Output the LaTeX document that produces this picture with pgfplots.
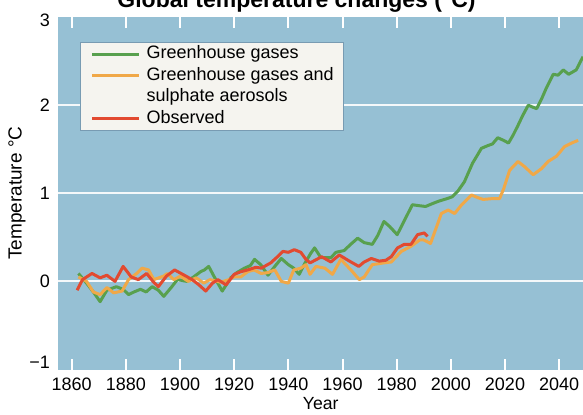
\documentclass[border=0pt]{standalone}
\usepackage{fontspec}
\setmainfont{Liberation Sans}
\usepackage{pgfplots}
\pgfplotsset{compat=1.18}
\definecolor{bgblue}{RGB}{150,192,212}
\definecolor{ghg}{RGB}{88,160,78}
\definecolor{ghgs}{RGB}{240,168,72}
\definecolor{obs}{RGB}{226,74,48}
\definecolor{legbg}{RGB}{245,244,239}
\definecolor{legbd}{RGB}{120,155,178}
\begin{document}
\begin{tikzpicture}
\useasboundingbox (0pt,0pt) rectangle (291.5pt,207pt);
\begin{scope}
\clip (0pt,0pt) rectangle (291.5pt,207pt);
\node[anchor=base, font=\bfseries\fontsize{11.5}{13}\selectfont] at (148.25pt,203.5pt) {Global temperature changes (°C)};
\end{scope}
\begin{axis}[
  at={(29.15pt,22.25pt)}, anchor=south west,
  scale only axis, width=262.35pt, height=176.25pt,
  xmin=1855.06, xmax=2048.8, ymin=-1, ymax=3,
  axis background/.style={fill=bgblue},
  axis line style={draw=none},
  tick align=inside,
  xtick pos=both,
  xtick={1860,1880,...,2040},
  xticklabels={1860,1880,1900,1920,1940,1960,1980,2000,2020,2040},
  xticklabel pos=lower,
  xtick style={white, line width=1pt},
  major tick length=5.5pt,
  xticklabel style={anchor=base, inner sep=0pt, yshift=-10.25pt, font=\fontsize{9}{10}\selectfont},
  ytick={-1,0,1,2,3},
  yticklabels={\raisebox{3.5pt}[\height][\depth]{−1},0,1,2,\raisebox{-1.5pt}[\height][\depth]{3}},
  ytick style={draw=none},
  yticklabel style={anchor=east, inner sep=0pt, xshift=-4pt, font=\fontsize{9}{10}\selectfont},
  extra y ticks={0,1,2},
  extra y tick labels={},
  extra y tick style={grid=major, major grid style={white, line width=1.1pt, opacity=0.9}, tick style={draw=none}},
  xlabel={Year},
  xlabel style={at={(axis description cs:0.5,0)}, anchor=base, inner sep=0pt, yshift=-19.75pt, font=\fontsize{8.8}{10}\selectfont},
  ylabel={Temperature °C},
  ylabel style={at={(axis description cs:-0.0787,0.5)}, anchor=center, inner sep=0pt, font=\fontsize{9.5}{10}\selectfont},
  legend style={at={(axis description cs:0.0414,0.929)}, anchor=north west,
    fill=legbg, draw=legbd, line width=0.5pt, inner xsep=5pt, inner ysep=1.5pt,
    font=\fontsize{9}{10}\selectfont, row sep=2.2pt, column sep=3pt,
    nodes={inner sep=0pt, text height=6.6pt, text depth=2pt}},
  legend cell align=left,
  legend image code/.code={\draw[#1, line width=1.5pt] (0pt,0pt) -- (23.5pt,0pt);},
  every axis plot/.append style={line width=1.5pt, line join=round},
]
\addplot[ghg, no marks] coordinates {
(1862.5,0.09)(1865.5,-0.02)(1868,-0.12)(1870.5,-0.23)(1873,-0.10)(1876.5,-0.06)
(1879,-0.09)(1881,-0.15)(1883,-0.12)(1885.4,-0.09)(1887.5,-0.12)(1889.7,-0.06)
(1892,-0.10)(1894,-0.17)(1897,-0.06)(1899,0.02)(1902.5,0.00)(1905,0.05)
(1907.6,0.11)(1909,0.13)(1910.6,0.17)(1912.5,0.06)(1915.6,-0.11)(1918.7,0.04)
(1921,0.10)(1923.8,0.15)(1926,0.18)(1927.5,0.25)(1929.8,0.19)(1932.5,0.07)
(1935,0.17)(1937.4,0.26)(1940,0.19)(1942,0.15)(1944,0.08)(1946,0.20)
(1948.3,0.32)(1949.7,0.38)(1952,0.27)(1955.7,0.27)(1957.6,0.33)(1960.6,0.35)
(1963,0.42)(1965.6,0.49)(1968,0.44)(1971,0.42)(1973,0.52)(1975.3,0.68)
(1977.5,0.62)(1980.2,0.53)(1983,0.70)(1985.8,0.87)(1988,0.86)(1990.7,0.85)
(1993,0.88)(1995.5,0.91)(1998.7,0.94)(2000.5,0.96)(2002.5,1.02)(2005,1.13)
(2008,1.34)(2011.3,1.51)(2013.6,1.54)(2015.4,1.56)(2017.3,1.63)(2019.5,1.60)
(2021.3,1.57)(2023,1.66)(2024.8,1.77)(2026.5,1.88)(2028.6,2.00)(2030,1.98)
(2031.7,1.96)(2033.5,2.07)(2035.2,2.19)(2037.8,2.35)(2039.6,2.34)(2041.5,2.40)
(2043.5,2.35)(2046.3,2.40)(2048.8,2.55)
};
\addplot[ghgs, no marks] coordinates {
(1862.5,0.05)(1865.5,0.00)(1868,-0.12)(1870.5,-0.15)(1873,-0.07)(1875.5,-0.13)
(1878.6,-0.11)(1881,0.02)(1884,0.09)(1886,0.15)(1888.4,0.13)(1890.3,0.02)
(1894,0.06)(1895.3,0.09)(1897.7,0.02)(1900.2,0.06)(1903,0.00)(1906,0.04)
(1908.8,-0.02)(1911,0.02)(1915,-0.01)(1918,0.02)(1920,0.05)(1922.4,0.05)
(1925,0.11)(1927.3,0.13)(1930,0.09)(1932.5,0.10)(1935,0.13)(1937.4,0.00)
(1940,-0.02)(1942,0.13)(1944.6,0.15)(1946.5,0.19)(1948,0.08)(1950.2,0.17)
(1953.5,0.15)(1956.3,0.08)(1959.4,0.25)(1963.1,0.13)(1966.2,0.02)(1968,0.05)
(1971,0.19)(1975.3,0.21)(1978,0.22)(1981.7,0.34)(1985.4,0.40)(1988.5,0.47)
(1990,0.47)(1992.5,0.43)(1996.5,0.77)(1999,0.81)(2001.4,0.77)(2004,0.87)
(2007.6,0.98)(2010,0.95)(2011.9,0.93)(2015.6,0.94)(2018,0.94)(2019.5,1.05)
(2021.7,1.26)(2024.8,1.36)(2027.3,1.30)(2030.4,1.21)(2033.5,1.28)(2035.9,1.36)
(2039,1.42)(2042,1.53)(2044.6,1.57)(2047,1.60)
};
\addlegendimage{empty legend}
\addplot[obs, no marks] coordinates {
(1862,-0.10)(1864,0.02)(1867.5,0.09)(1870.5,0.04)(1873,0.07)(1876,0.00)
(1879,0.17)(1882,0.05)(1884.6,0.02)(1887.7,0.09)(1890,0.00)(1892,-0.06)
(1895,0.06)(1898,0.13)(1901,0.08)(1904.5,0.02)(1907,-0.04)(1909.5,-0.11)
(1912,-0.02)(1914,0.02)(1917,-0.04)(1920,0.08)(1922.5,0.11)(1925,0.13)
(1928,0.16)(1930,0.15)(1933.5,0.21)(1936,0.28)(1938,0.34)(1940,0.33)
(1942.2,0.36)(1944.6,0.33)(1946.5,0.25)(1948,0.21)(1950.5,0.25)(1952.3,0.28)
(1955.7,0.22)(1958.8,0.30)(1962,0.24)(1966,0.17)(1968,0.22)(1970.6,0.26)
(1973.6,0.23)(1976,0.24)(1978,0.28)(1980.3,0.38)(1982.8,0.42)(1985.3,0.42)
(1987.7,0.53)(1990.2,0.55)(1991.4,0.51)
};
\legend{Greenhouse gases, Greenhouse gases and, sulphate aerosols, Observed}
\end{axis}
\end{tikzpicture}
\end{document}
